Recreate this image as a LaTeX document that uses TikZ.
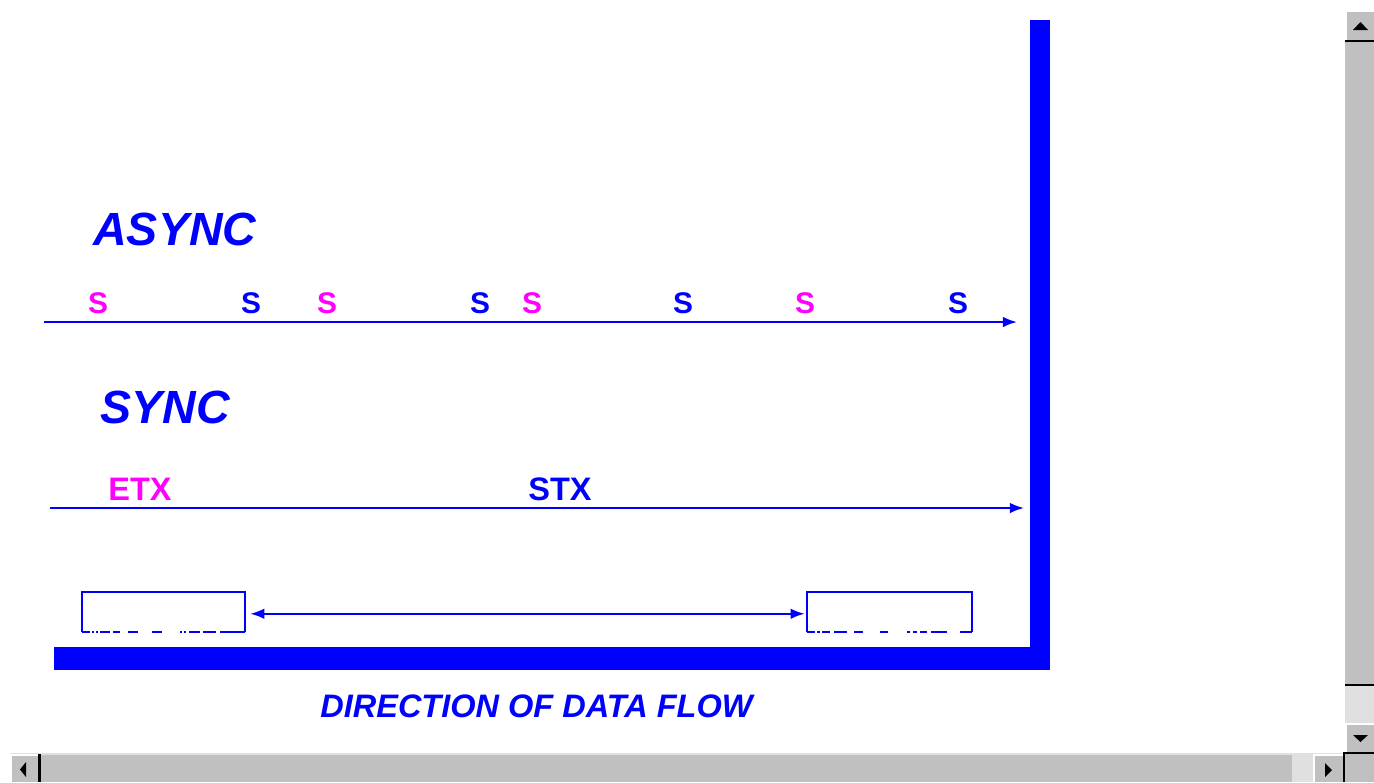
\documentclass[tikz,border=0pt]{standalone}
\usepackage{fontspec}
\setmainfont{Liberation Sans}
\usetikzlibrary{arrows.meta, positioning}
\definecolor{Flow}    {HTML}{0000FF}
\definecolor{Mark}    {HTML}{FF00FF}
\definecolor{Bar}     {HTML}{C0C0C0}
\definecolor{BarLight}{HTML}{E0E0E0}
\tikzset{
  flow arrow/.style={-{Latex[length=8pt,width=6pt]}, line width=1.1pt, Flow},
  span arrow/.style={{Latex[length=8pt,width=6pt]}-{Latex[length=8pt,width=6pt]}, line width=1.1pt, Flow},
}

\begin{document}
\begin{tikzpicture}[x=0.02cm, y=-0.02cm,
    title/.style={font=\fontsize{26.5}{26.5}\selectfont\bfseries\itshape, text=Flow,
                  anchor=base west, inner sep=0pt},
    sync char/.style={font=\fontsize{17}{17}\selectfont\bfseries, anchor=base, inner sep=0pt},
    slot/.style={minimum width=3.26cm, minimum height=0.8cm, inner sep=0pt},
    edge/.style={draw=Flow, line width=1.1pt}]
  \useasboundingbox (0,0) rectangle (1374,782);
  % Frame
  \fill[Flow] (1030,20) rectangle (1050,670);
  \fill[Flow] (54,647) rectangle (1050,670);
  % Async line
  \node[title] (async) at (93,245) {ASYNC};
  \coordinate (a start) at (44,322);
  \coordinate (a end)   at (1017,322);
  \draw[flow arrow] (a start) -- (a end);
  \foreach \x [count=\i] in {98,327,532,805}
    \node[sync char, text=Mark] (sm\i) at (\x,313) {S};
  \foreach \x [count=\i] in {251,480,683,958}
    \node[sync char, text=Flow] (sb\i) at (\x,313) {S};
  % Sync line
  \node[title] (sync) at (100,423) {SYNC};
  \node[sync char, font=\fontsize{18.5}{18.5}\selectfont\bfseries, anchor=base west, text=Mark] (etx) at (108,500) {ETX};
  \node[sync char, font=\fontsize{18.5}{18.5}\selectfont\bfseries, anchor=base west, text=Flow] (stx) at (528,500) {STX};
  \coordinate (s start) at (50,508);
  \coordinate (s end)   at (1024,508);
  \draw[flow arrow] (s start) -- (s end);
  % Frames on the line
  \node[slot] (lbox) at (163.5,612) {};
  \node[slot, minimum width=3.3cm] (rbox) at (889.5,612) {};
  \draw[edge] (lbox.south west) -- (lbox.north west) -- (lbox.north east) -- (lbox.south east);
  \draw[edge] (rbox.south west) -- (rbox.north west) -- (rbox.north east) -- (rbox.south east);
  \foreach \a/\b in {82/90, 92/94, 96/98, 100/110, 113/120, 128/138, 152/162, 180/182, 184/186, 189/200, 203/216, 220/245}
    \draw[edge] (\a,632) -- (\b,632);
  \foreach \a/\b in {807/815, 817/820, 822/830, 834/847, 854/863, 880/888, 907/910, 913/917, 920/927, 931/947, 960/972}
    \draw[edge] (\a,632) -- (\b,632);
  \draw[span arrow, shorten <=2.8pt, shorten >=1.1pt] ([yshift=-1pt]lbox.east) -- ([yshift=-1pt]rbox.west);
  \node[title, font=\fontsize{18.5}{18.5}\selectfont\bfseries\itshape] (dir) at (320,717) {DIRECTION OF DATA FLOW};
  % Scroll bars
  \fill[Bar] (1345,10) rectangle (1374,752);
  \fill[BarLight] (1345,686) rectangle (1374,723);
  \draw[white, line width=1pt] (1346,40) -- (1346,11) -- (1374,11);
  \draw[white, line width=1pt] (1346,752) -- (1346,724) -- (1374,724);
  \fill[black] (1345,40) rectangle (1374,42);
  \fill[black] (1345,684) rectangle (1374,686);
  \fill[black] (1353,30) -- (1368,30) -- (1360.5,22) -- cycle;
  \fill[black] (1353,735) -- (1368,735) -- (1360.5,742) -- cycle;
  \fill[Bar] (10,754) rectangle (1374,782);
  \fill[BarLight] (1292,754) rectangle (1313,782);
  \draw[BarLight, line width=0.6pt] (10,754) -- (1343,754);
  \draw[white, line width=1pt] (11,782) -- (11,755) -- (38,755);
  \draw[white, line width=1pt] (1314,782) -- (1314,755) -- (1343,755);
  \fill[black] (38,754) rectangle (41,782);
  \fill[black] (1343,752) rectangle (1345,782);
  \fill[black] (1345,752) rectangle (1374,754);
  \fill[black] (26,762) -- (26,777) -- (20,769.5) -- cycle;
  \fill[black] (1325,763) -- (1325,777) -- (1332,770) -- cycle;
\end{tikzpicture}
\end{document}
